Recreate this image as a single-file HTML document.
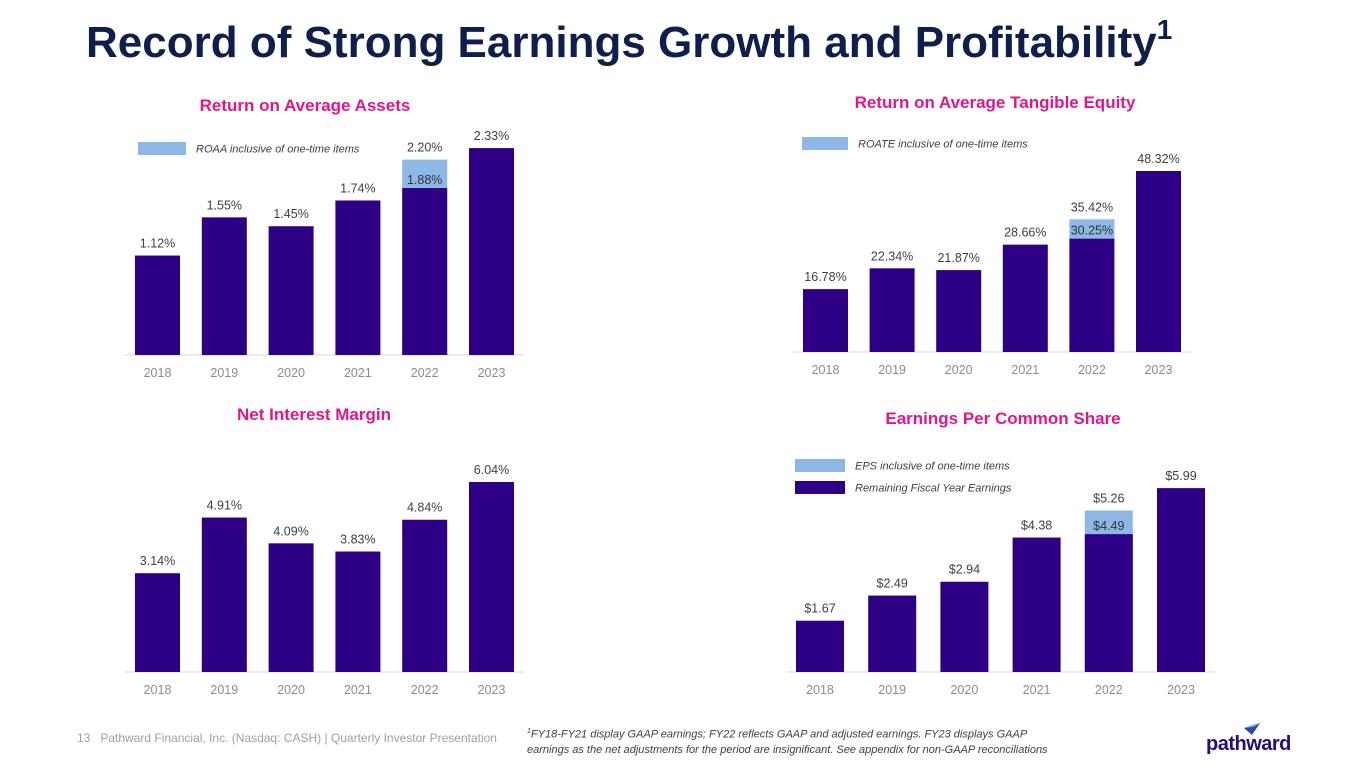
<!DOCTYPE html>
<html><head><meta charset="utf-8">
<style>
body{margin:0;width:1365px;height:768px;background:#fff;font-family:"Liberation Sans",sans-serif;overflow:hidden;position:relative}
.t{position:absolute;white-space:nowrap}
</style></head><body>
<div class="t" style="left:86px;top:18px;font-size:44px;font-weight:bold;color:#0e1f4d">Record of Strong Earnings Growth and Profitability<sup style="font-size:28px;position:relative;top:-4px;vertical-align:top">1</sup></div>
<svg id="c" width="1365" height="768" style="position:absolute;left:0;top:0"></svg>
<div class="t" style="left:77px;top:731px;font-size:12px;color:#a0a0a0">13&nbsp;&nbsp;&nbsp;Pathward Financial, Inc. (Nasdaq: CASH) | Quarterly Investor Presentation</div>
<div class="t" style="left:527px;top:724px;font-size:11px;line-height:15px;font-style:italic;color:#404040"><sup style="font-size:7px">1</sup>FY18-FY21 display GAAP earnings; FY22 reflects GAAP and adjusted earnings. FY23 displays GAAP<br>earnings as the net adjustments for the period are insignificant. See appendix for non-GAAP reconciliations</div>
<div class="t" style="left:1206px;top:733px;font-size:20px;font-weight:bold;color:#2a0a7a;letter-spacing:-0.5px">pathward</div>
<svg width="20" height="14" style="position:absolute;left:1242px;top:722px"><polygon points="2,6 18,1 10,13" fill="#2a4aa0"/><polygon points="2,6 18,1 12,5" fill="#6aa0e0"/></svg>
<script>
const years=["2018","2019","2020","2021","2022","2023"];
const roaa=[1.12,1.55,1.45,1.74,1.88,2.33];
const roaaExtra=[null,null,null,null,2.20,null];
const roate=[16.78,22.34,21.87,28.66,30.25,48.32];
const roateExtra=[null,null,null,null,35.42,null];
const nim=[3.14,4.91,4.09,3.83,4.84,6.04];
const eps=[1.67,2.49,2.94,4.38,4.49,5.99];
const epsExtra=[null,null,null,null,5.26,null];

const NS="http://www.w3.org/2000/svg";
const svg=document.getElementById('c');
function mk(tag,attrs,parent){const e=document.createElementNS(NS,tag);for(const k in attrs)e.setAttribute(k,attrs[k]);(parent||svg).appendChild(e);return e;}
const DARK="#2e0086",LIGHT="#8db8e6";
function chart(cfg){
  const g=mk('g',{});
  
  
  const y=v=>cfg.base-v*cfg.scale;
  const x=i=>cfg.x0+i*cfg.step;
  const ln=mk('line',{x1:cfg.x0-10,x2:x(5)+cfg.w+10,y1:cfg.base,y2:cfg.base,stroke:"#d9d9d9","stroke-width":1},g);
  
  
  const tt=mk('text',{x:cfg.tx,y:cfg.ty,"text-anchor":"middle","font-size":17,"font-weight":"bold",fill:"#e0168a"},g);
  tt.textContent=cfg.title;
  
  
  cfg.vals.forEach((v,i)=>{
    const ex=cfg.extra?cfg.extra[i]:null;
    if(ex!=null){
      const r2=mk('rect',{x:x(i),y:y(ex),width:cfg.w,height:cfg.base-y(ex),fill:LIGHT},g);
      
      
    }
    const r=mk('rect',{x:x(i),y:y(v),width:cfg.w,height:cfg.base-y(v),fill:DARK},g);
    
    
    if(ex!=null){
      const t=mk('text',{x:x(i)+cfg.w/2,y:y(v)-4,"text-anchor":"middle","font-size":12.5,fill:"#333"},g);
      t.textContent=cfg.fmt(v);
      
      
      const t2=mk('text',{x:x(i)+cfg.w/2,y:y(ex)-8,"text-anchor":"middle","font-size":12.5,fill:"#404040"},g);
      t2.textContent=cfg.fmt(ex);
      
      
    } else {
      const t=mk('text',{x:x(i)+cfg.w/2,y:y(v)-8,"text-anchor":"middle","font-size":12.5,fill:"#404040"},g);
      t.textContent=cfg.fmt(v);
      
      
    }
    const yl=mk('text',{x:x(i)+cfg.w/2,y:cfg.base+22,"text-anchor":"middle","font-size":12.5,fill:"#8c8c8c"},g);
    yl.textContent=years[i];
    
    
  });
  cfg.legend.forEach(L=>{
    const lr=mk('rect',{x:L.x,y:L.y,width:L.w,height:13,fill:L.c},g);
    
    
    const lt=mk('text',{x:L.x+L.w+10,y:L.y+10.5,"font-size":11,"font-style":"italic",fill:"#404040"},g);
    lt.textContent=L.t;
    
    
  });
}
chart({name:'roaa-chart',title:'Return on Average Assets',tx:305,ty:111,vals:roaa,extra:roaaExtra,base:355,scale:88.8,x0:135,step:66.8,w:45,fmt:v=>v.toFixed(2)+'%',
  legend:[{x:138,y:142,w:48,c:LIGHT,t:'ROAA inclusive of one-time items'}]});
chart({name:'roate-chart',title:'Return on Average Tangible Equity',tx:995,ty:108,vals:roate,extra:roateExtra,base:352,scale:3.746,x0:803,step:66.6,w:45,fmt:v=>v.toFixed(2)+'%',
  legend:[{x:802,y:137,w:46,c:LIGHT,t:'ROATE inclusive of one-time items'}]});
chart({name:'nim-chart',title:'Net Interest Margin',tx:314,ty:420,vals:nim,extra:null,base:672,scale:31.46,x0:135,step:66.8,w:45,fmt:v=>v.toFixed(2)+'%',legend:[]});
chart({name:'eps-chart',title:'Earnings Per Common Share',tx:1003,ty:424,vals:eps,extra:epsExtra,base:672,scale:30.7,x0:796,step:72.2,w:48,fmt:v=>'$'+v.toFixed(2),
  legend:[{x:795,y:459,w:50,c:LIGHT,t:'EPS inclusive of one-time items'},{x:795,y:481,w:50,c:DARK,t:'Remaining Fiscal Year Earnings'}]});
</script>
</body></html>
